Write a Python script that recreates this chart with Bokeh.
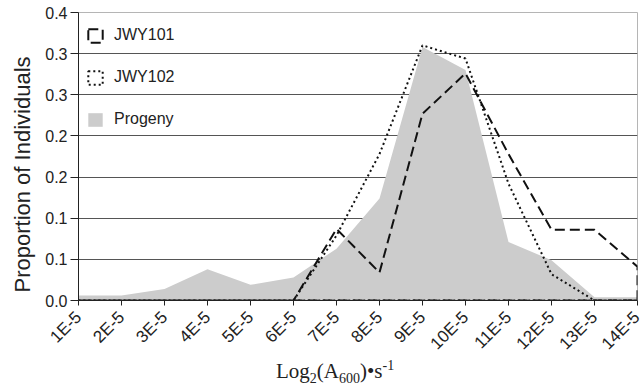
import math
from bokeh.plotting import figure
from bokeh.layouts import column
from bokeh.models import FixedTicker, Legend, LegendItem, Range1d, Title, Div
from bokeh.embed import file_html
from bokeh.resources import INLINE

# ---- data ----
categories = ["1E-5", "2E-5", "3E-5", "4E-5", "5E-5", "6E-5", "7E-5",
              "8E-5", "9E-5", "10E-5", "11E-5", "12E-5", "13E-5", "14E-5"]
progeny = [0.006, 0.006, 0.014, 0.038, 0.019, 0.028, 0.063,
           0.124, 0.308, 0.280, 0.071, 0.049, 0.004, 0.004]
jwy101 = [0.0, 0.0, 0.0, 0.0, 0.0, 0.0, 0.087,
          0.034, 0.227, 0.276, 0.178, 0.086, 0.086, 0.041]
jwy102 = [0.0, 0.0, 0.0, 0.0, 0.0, 0.0, 0.079,
          0.178, 0.310, 0.294, 0.142, 0.032, 0.0, 0.0]
y_ticks = [0.0, 0.05, 0.1, 0.15, 0.2, 0.25, 0.3, 0.35]
y_tick_labels = ["0.0", "0.1", "0.1", "0.2", "0.2", "0.3", "0.3", "0.4"]

xs = list(range(1, len(categories) + 1))

FONT = "Liberation Sans"
SERIF = "Liberation Serif"
TXT = "#222222"

p = figure(width=643, height=364, output_backend="svg", toolbar_location=None,
           x_range=Range1d(xs[0], xs[-1]), y_range=Range1d(y_ticks[0], y_ticks[-1]),
           min_border_left=76, min_border_right=6, min_border_top=12,
           min_border_bottom=64,
           background_fill_color="white", border_fill_color="white")
p.outline_line_color = "#b5b5b5"

# area outlines closed along the baseline (like the original area series)
def closed(vals):
    return xs + [xs[-1], xs[0]], vals + [0.0, 0.0]

px, py = closed(progeny)
r_prog = p.patch(px, py, fill_color="#cccccc", line_alpha=0)
ax1, ay1 = closed(jwy101)
r101 = p.patch(ax1, ay1, fill_alpha=0, line_color="#111111", line_width=2, line_dash="10 5")
ax2, ay2 = closed(jwy102)
r102 = p.patch(ax2, ay2, fill_alpha=0, line_color="#111111", line_width=2, line_dash="2 3")

# axes
p.xaxis.ticker = FixedTicker(ticks=xs)
p.xaxis.major_label_overrides = {x: c for x, c in zip(xs, categories)}
p.xaxis.major_label_orientation = math.pi / 4
p.yaxis.ticker = FixedTicker(ticks=y_ticks)
p.yaxis.major_label_overrides = {t: l for t, l in zip(y_ticks, y_tick_labels)}
for ax in (p.xaxis, p.yaxis):
    ax.axis_line_color = "#222222"
    ax.major_tick_line_color = "#222222"
    ax.minor_tick_line_color = None
    ax.major_tick_in = 0
    ax.major_label_text_font = FONT
    ax.major_label_text_color = TXT
p.xaxis.major_tick_out = 5
p.yaxis.major_tick_out = 8
p.yaxis.major_label_standoff = 3
p.xaxis.major_label_standoff = 9
p.yaxis.major_label_text_font_size = "16px"
p.xaxis.major_label_text_font_size = "17px"

p.xgrid.grid_line_color = None
p.ygrid.ticker = FixedTicker(ticks=y_ticks)
p.ygrid.grid_line_color = "#555555"
p.ygrid.grid_line_width = 1.2

# legend
legend = Legend(items=[LegendItem(label="JWY101", renderers=[r101]),
                       LegendItem(label="JWY102", renderers=[r102]),
                       LegendItem(label="Progeny", renderers=[r_prog])],
                location=(0, 164), padding=8, margin=0, spacing=24,
                glyph_width=18, glyph_height=17, label_height=17, label_standoff=10,
                label_text_font=FONT, label_text_font_size="16px", label_text_color=TXT,
                background_fill_alpha=0, border_line_alpha=0)
p.add_layout(legend)

# y axis title (as a side title so it is not clipped)
p.add_layout(Title(text="Proportion of Individuals", align="left", offset=8,
                   text_font=FONT, text_font_size="22px", text_font_style="normal",
                   text_color=TXT, standoff=15), "left")

# x axis title with real sub/superscripts
SUB = 'style="font-size:14px; line-height:0"'
xtitle = Div(text=(f'<span style="position:relative; top:-5px">Log<sub {SUB}>2</sub>'
                   f'(A<sub {SUB}>600</sub>)•s<sup {SUB}>-1</sup></span>'),
             width=367, height=26, margin=(0, 0, 0, 276),
             styles={"font-family": SERIF, "font-size": "21px", "color": TXT,
                     "line-height": "24px", "white-space": "nowrap"})

layout = column(p, xtitle, spacing=0)
open("out.html", "w").write(file_html(layout, INLINE))
